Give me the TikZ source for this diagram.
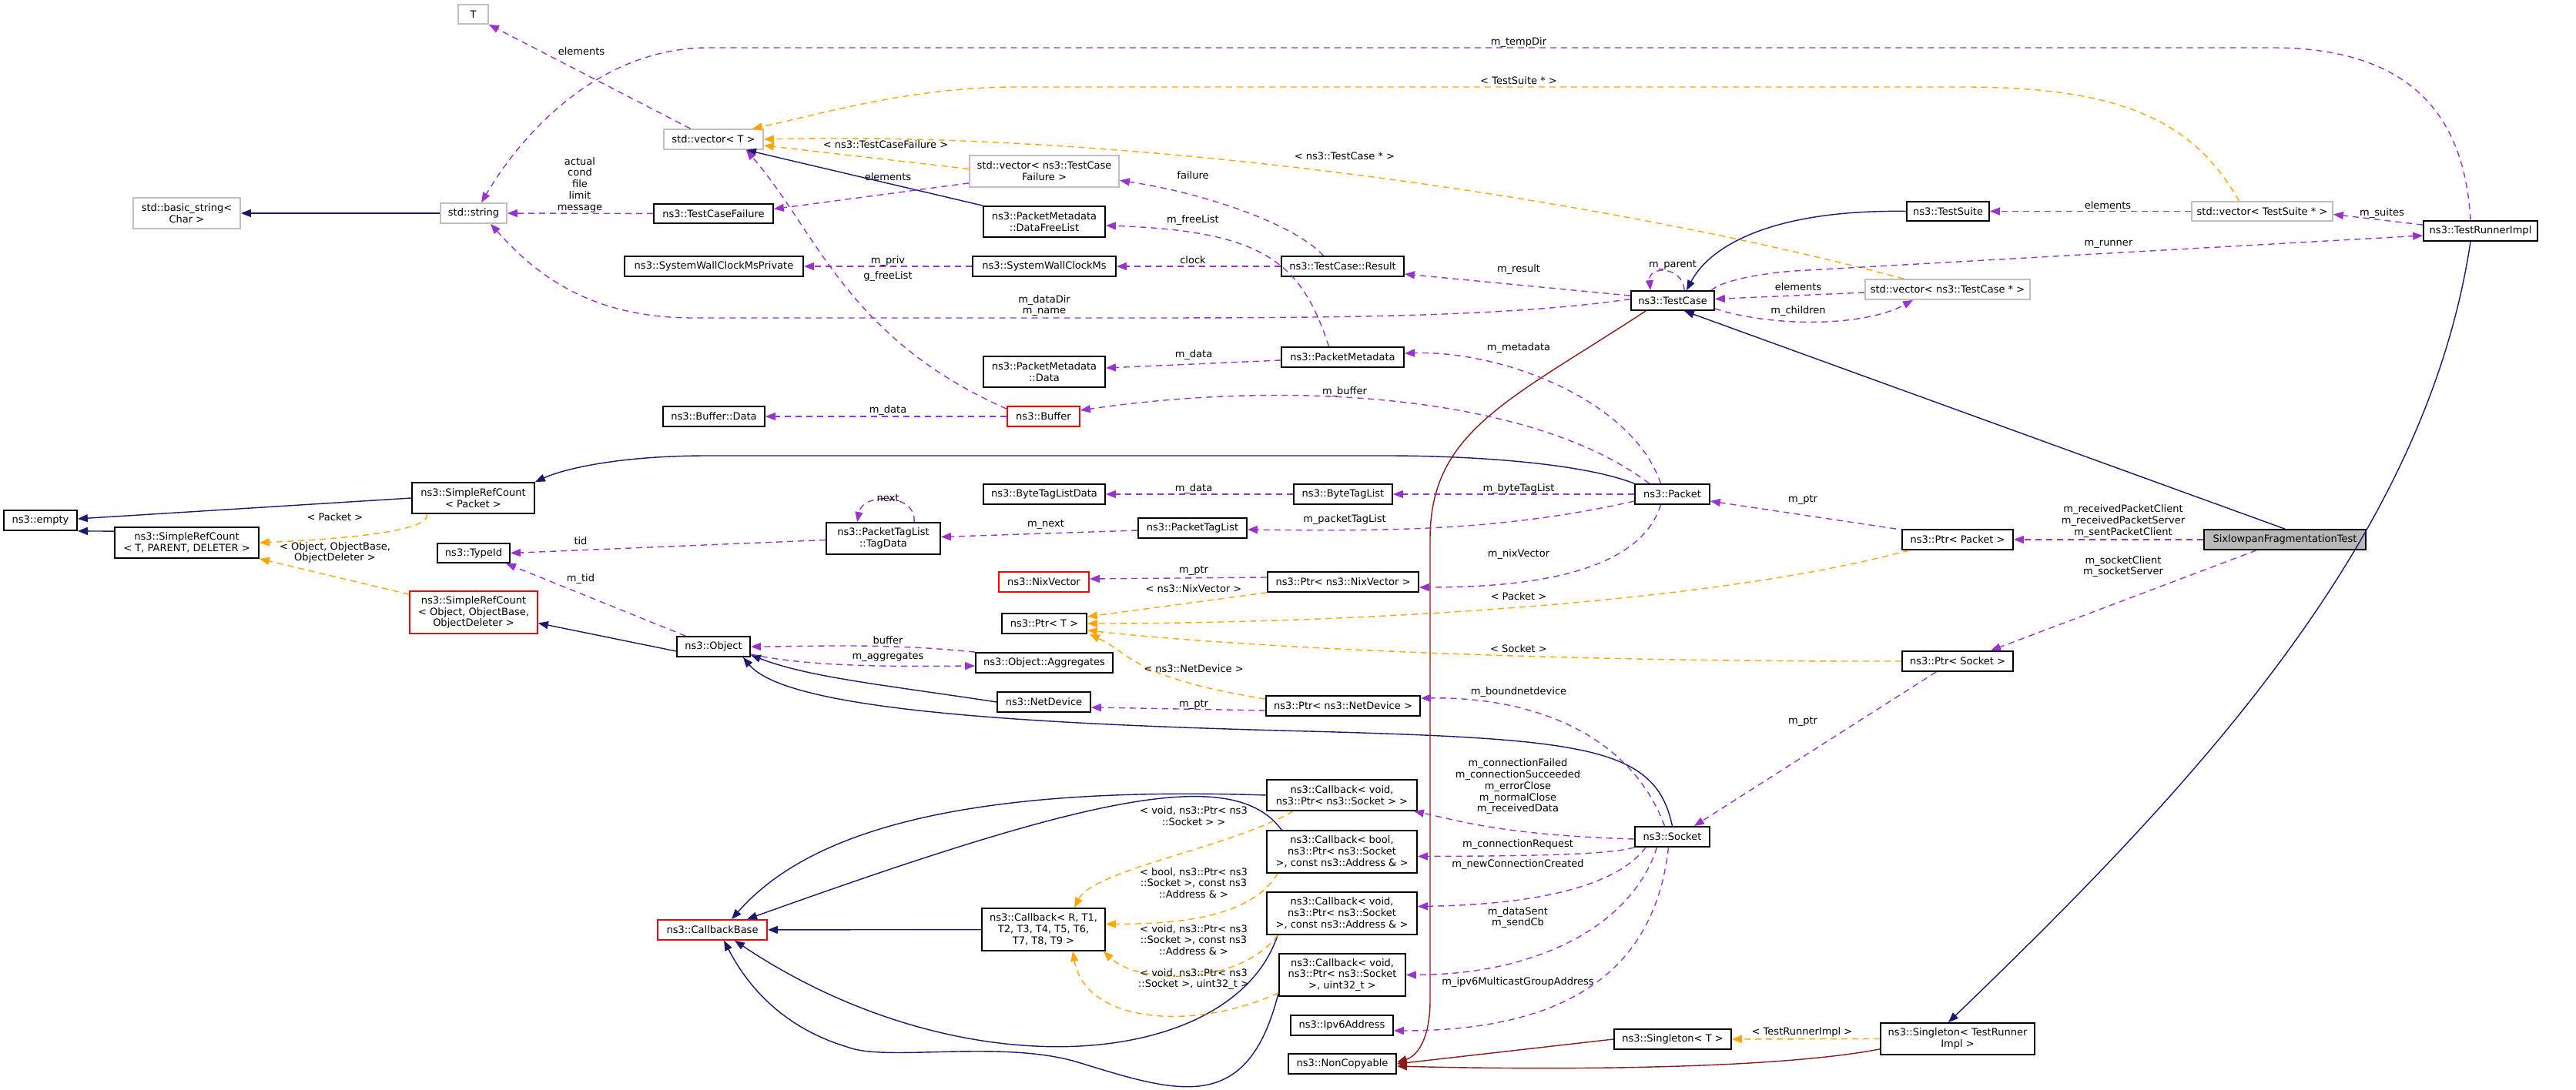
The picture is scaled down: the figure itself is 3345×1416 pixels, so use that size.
\documentclass[tikz,border=0pt]{standalone}
\usepackage{fontspec}
\setmainfont{DejaVu Sans}
\usetikzlibrary{arrows.meta}
\definecolor{pur}{HTML}{9A32CD}
\definecolor{nav}{HTML}{191970}
\definecolor{org}{HTML}{FFA500}
\definecolor{drd}{HTML}{8B1A1A}
\definecolor{gbd}{HTML}{BFBFBF}
\newcommand\B[7]{\node[#1,minimum width={(#4-#3)*0.01cm},minimum height={(#6-#5)*0.01cm}] (#2) at ({(#3+#4)/2},{(#5+#6)/2}) {#7};}
\newcommand\Lb[3]{\node[lab] at (#1,#2) {#3};}
\newcommand\Sh[3]{([shift={(#1,#2)}]#3)}
\begin{document}
\begin{tikzpicture}[x=0.01cm,y=-0.01cm,
  font=\fontsize{3.7}{4.2}\selectfont,
  bx/.style={draw=black,line width=0.5pt,inner sep=0pt,align=center,fill=white},
  gb/.style={bx,draw=gbd},
  rb/.style={bx,draw=red},
  lab/.style={align=center,inner sep=0pt},
  tip/.style={-{Triangle[length=0.13cm,width=0.1cm]}},
  inh/.style={tip,draw=nav,line width=0.4pt},
  ncp/.style={tip,draw=drd,line width=0.4pt},
  tpl/.style={tip,draw=org,line width=0.4pt,dash pattern=on 0.08cm off 0.06cm},
  use/.style={tip,draw=pur,line width=0.4pt,dash pattern=on 0.08cm off 0.06cm}]
\useasboundingbox (0,0) rectangle (3345,1416);
\B{gb}{T}{595}{634}{6}{31}{T}
\B{gb}{vecT}{862}{991}{168}{194}{std::vector< T >}
\B{gb}{str}{572}{658}{264}{290}{std::string}
\B{gb}{bstr}{173}{312}{257}{297}{std::basic\_string<\\ Char >}
\B{bx}{tcf}{849}{1004}{265}{290}{ns3::TestCaseFailure}
\B{bx}{swcp}{811}{1043}{333}{359}{ns3::SystemWallClockMsPrivate}
\B{gb}{vtcf}{1259}{1453}{202}{243}{std::vector< ns3::TestCase\\Failure >}
\B{bx}{dfl}{1277}{1435}{268}{308}{ns3::PacketMetadata\\::DataFreeList}
\B{bx}{swc}{1263}{1449}{333}{359}{ns3::SystemWallClockMs}
\B{bx}{res}{1664}{1823}{333}{359}{ns3::TestCase::Result}
\B{bx}{tc}{2118}{2226}{378}{403}{ns3::TestCase}
\B{bx}{pm}{1664}{1823}{451}{477}{ns3::PacketMetadata}
\B{bx}{pmd}{1277}{1435}{463}{503}{ns3::PacketMetadata\\::Data}
\B{bx}{ts}{2476}{2583}{262}{287}{ns3::TestSuite}
\B{gb}{vts}{2846}{3029}{262}{287}{std::vector< TestSuite * >}
\B{bx}{tri}{3147}{3295}{287}{313}{ns3::TestRunnerImpl}
\B{gb}{vtc}{2422}{2636}{363}{389}{std::vector< ns3::TestCase * >}
\B{bx}{empty}{5}{100}{663}{689}{ns3::empty}
\B{bx}{srcp}{535}{694}{627}{667}{ns3::SimpleRefCount\\< Packet >}
\B{bx}{srct}{149}{336}{685}{725}{ns3::SimpleRefCount\\< T, PARENT, DELETER >}
\B{bx}{tid}{568}{662}{706}{731}{ns3::TypeId}
\B{rb}{srco}{532}{698}{768}{823}{ns3::SimpleRefCount\\< Object, ObjectBase,\\ObjectDeleter >}
\B{bx}{obj}{879}{974}{827}{853}{ns3::Object}
\B{bx}{bd}{861}{993}{528}{554}{ns3::Buffer::Data}
\B{rb}{buf}{1308}{1402}{528}{554}{ns3::Buffer}
\B{bx}{btld}{1277}{1435}{629}{655}{ns3::ByteTagListData}
\B{bx}{btl}{1680}{1808}{629}{655}{ns3::ByteTagList}
\B{bx}{pkt}{2123}{2220}{629}{655}{ns3::Packet}
\B{bx}{tagd}{1073}{1221}{679}{720}{ns3::PacketTagList\\::TagData}
\B{bx}{ptl}{1478}{1619}{673}{699}{ns3::PacketTagList}
\B{rb}{nix}{1297}{1414}{743}{769}{ns3::NixVector}
\B{bx}{pnix}{1646}{1842}{743}{769}{ns3::Ptr< ns3::NixVector >}
\B{bx}{ptrT}{1301}{1411}{797}{823}{ns3::Ptr< T >}
\B{bx}{agg}{1267}{1445}{848}{874}{ns3::Object::Aggregates}
\B{bx}{nd}{1295}{1416}{899}{925}{ns3::NetDevice}
\B{bx}{pnd}{1644}{1844}{904}{930}{ns3::Ptr< ns3::NetDevice >}
\B{bx}{cb1}{1645}{1840}{1013}{1053}{ns3::Callback< void,\\ ns3::Ptr< ns3::Socket > >}
\B{bx}{cb2}{1645}{1840}{1079}{1134}{ns3::Callback< bool,\\ ns3::Ptr< ns3::Socket\\ >, const ns3::Address \& >}
\B{bx}{cb3}{1645}{1840}{1159}{1214}{ns3::Callback< void,\\ ns3::Ptr< ns3::Socket\\ >, const ns3::Address \& >}
\B{bx}{cb4}{1661}{1825}{1239}{1294}{ns3::Callback< void,\\ ns3::Ptr< ns3::Socket\\ >, uint32\_t >}
\B{bx}{ipv6}{1676}{1809}{1319}{1345}{ns3::Ipv6Address}
\B{bx}{nc}{1673}{1813}{1369}{1395}{ns3::NonCopyable}
\B{rb}{cbb}{854}{996}{1195}{1221}{ns3::CallbackBase}
\B{bx}{cbt}{1275}{1435}{1180}{1235}{ns3::Callback< R, T1,\\ T2, T3, T4, T5, T6,\\ T7, T8, T9 >}
\B{bx}{sock}{2123}{2220}{1074}{1100}{ns3::Socket}
\B{bx}{sgT}{2096}{2248}{1337}{1363}{ns3::Singleton< T >}
\B{bx}{sgR}{2442}{2642}{1329}{1370}{ns3::Singleton< TestRunner\\Impl >}
\B{bx}{pp}{2470}{2614}{688}{714}{ns3::Ptr< Packet >}
\B{bx,fill=gray!55}{six}{2862}{3072}{688}{714}{SixlowpanFragmentationTest}
\B{bx}{ps}{2470}{2614}{846}{872}{ns3::Ptr< Socket >}
% inheritance
\draw[inh] (dfl.north west) -- \Sh{-23}{0}{vecT.south east};
\draw[inh] (str) -- (bstr);
\draw[inh] (ts.west) .. controls (2300,272) and (2220,320) .. \Sh{18}{0}{tc.north};
\draw[inh] (six.north) -- \Sh{-40}{0}{tc.south east};
\draw[inh] \Sh{-13}{0}{tri.south} .. controls (3150,700) and (2850,1020) .. \Sh{-12}{0}{sgR.north};
\draw[inh] (pkt.north west) .. controls (2050,600) and (1900,592) .. (1800,592) -- (920,592) .. controls (800,592) and (730,610) .. (srcp.north east);
\draw[inh] (srcp.west) -- \Sh{0}{-2}{empty.east};
\draw[inh] \Sh{0}{6}{srct.north west} -- (empty.south east);
\draw[inh] \Sh{0}{6}{obj.west} -- \Sh{0}{14}{srco.east};
\draw[inh] (nd.west) .. controls (1150,890) and (1050,880) .. \Sh{0}{-3}{obj.south east};
\draw[inh] (sock.north) .. controls (2150,970) and (2060,960) .. (1700,950) .. controls (1300,940) and (1020,920) .. \Sh{-10}{0}{obj.south east};
\draw[inh] (cbt) -- (cbb);
\draw[inh] (cb1.west) .. controls (1250,1020) and (1050,1080) .. \Sh{25}{0}{cbb.north};
\draw[inh] \Sh{20}{0}{cb2.north west} .. controls (1600,990) and (1400,1040) .. \Sh{45}{0}{cbb.north};
\draw[inh] \Sh{15}{0}{cb3.south west} .. controls (1600,1390) and (1250,1420) .. \Sh{29}{0}{cbb.south};
\draw[inh] \Sh{0}{-5}{cb4.south west} .. controls (1620,1450) and (1530,1420) .. (1400,1380) .. controls (1300,1350) and (1150,1380) .. (1100,1360) .. controls (1000,1330) and (960,1260) .. \Sh{15}{0}{cbb.south};
% noncopyable
\draw[ncp] \Sh{20}{0}{tc.south west} .. controls (1960,520) and (1857,560) .. (1857,700) -- (1857,1300) .. controls (1857,1350) and (1840,1372) .. \Sh{0}{-2}{nc.east};
\draw[ncp] (sgT.west) -- (nc.east);
\draw[ncp] \Sh{0}{-8}{sgR.south west} .. controls (2300,1390) and (2000,1390) .. \Sh{0}{3}{nc.east};
% templates
\draw[tpl] (sgR.west) -- (sgT.east); \Lb{2340}{1341}{< TestRunnerImpl >}
\draw[tpl] \Sh{-30}{0}{vts.north} .. controls (2850,160) and (2760,113) .. (2550,113) -- (1320,113) .. controls (1180,113) and (1060,150) .. \Sh{-15}{0}{vecT.north east}; \Lb{1972}{105}{< TestSuite * >}
\draw[tpl] \Sh{-57}{0}{vtc.north} .. controls (2050,250) and (1450,170) .. (vecT.east); \Lb{1746}{203}{< ns3::TestCase * >}
\draw[tpl] \Sh{0}{-3}{vtcf.west} -- \Sh{0}{8}{vecT.east}; \Lb{1150}{188}{< ns3::TestCaseFailure >}
\draw[tpl] \Sh{20}{0}{srcp.south west} .. controls (560,690) and (450,700) .. (srct.east); \Lb{435}{672}{< Packet >}
\draw[tpl] \Sh{0}{5}{srco.north west} -- (srct.south east); \Lb{435}{718}{< Object, ObjectBase,\\ObjectDeleter >}
\draw[tpl] (pnix.south west) -- \Sh{0}{5}{ptrT.north east}; \Lb{1550}{765}{< ns3::NixVector >}
\draw[tpl] \Sh{10}{0}{pp.south west} .. controls (2200,790) and (1700,810) .. (ptrT.east); \Lb{1972}{775}{< Packet >}
\draw[tpl] (ps.west) .. controls (2000,860) and (1600,840) .. \Sh{0}{-5}{ptrT.south east}; \Lb{1972}{843}{< Socket >}
\draw[tpl] \Sh{0}{5}{pnd.north west} .. controls (1470,880) and (1470,850) .. \Sh{3}{0}{ptrT.south east}; \Lb{1550}{869}{< ns3::NetDevice >}
\draw[tpl] \Sh{35}{0}{cb1.south west} .. controls (1600,1100) and (1420,1130) .. \Sh{40}{0}{cbt.north}; \Lb{1550}{1060}{< void, ns3::Ptr< ns3\\::Socket > >}
\draw[tpl] \Sh{15}{0}{cb2.south west} .. controls (1620,1200) and (1500,1200) .. \Sh{0}{-7}{cbt.east}; \Lb{1550}{1147}{< bool, ns3::Ptr< ns3\\::Socket >, const ns3\\::Address \& >}
\draw[tpl] \Sh{15}{0}{cb3.south west} .. controls (1610,1280) and (1480,1280) .. \Sh{-3}{0}{cbt.south east}; \Lb{1550}{1221}{< void, ns3::Ptr< ns3\\::Socket >, const ns3\\::Address \& >}
\draw[tpl] \Sh{0}{-5}{cb4.south west} .. controls (1550,1340) and (1410,1330) .. \Sh{38}{0}{cbt.south}; \Lb{1550}{1272}{< void, ns3::Ptr< ns3\\::Socket >, uint32\_t >}
% usage
\draw[use] \Sh{-30}{0}{vecT.north} -- (T.south east); \Lb{755}{67}{elements}
\draw[use] \Sh{-13}{0}{tri.north} .. controls (3200,140) and (3120,62) .. (2950,62) -- (920,62) .. controls (780,62) and (680,170) .. \Sh{10}{0}{str.north}; \Lb{1972}{55}{m\_tempDir}
\draw[use] (tcf) -- (str); \Lb{753}{240}{actual\\cond\\file\\limit\\message}
\draw[use] \Sh{0}{-2}{tc.west} .. controls (1950,413) and (1700,413) .. (1450,413) -- (900,413) .. controls (760,413) and (690,350) .. \Sh{22}{0}{str.south}; \Lb{1356}{397}{m\_dataDir\\m\_name}
\draw[use] \Sh{0}{-6}{vtcf.south west} -- \Sh{0}{-6}{tcf.east}; \Lb{1153}{230}{elements}
\draw[use] \Sh{-25}{0}{res.north} .. controls (1680,290) and (1560,250) .. \Sh{0}{12}{vtcf.east}; \Lb{1549}{228}{failure}
\draw[use] \Sh{-18}{0}{pm.north} .. controls (1690,340) and (1640,300) .. \Sh{0}{5}{dfl.east}; \Lb{1549}{286}{m\_freeList}
\draw[use] (swc) -- (swcp); \Lb{1153}{339}{m\_priv}
\draw[use] (res) -- (swc); \Lb{1549}{338}{clock}
\draw[use] \Sh{0}{4}{buf.north west} .. controls (1100,440) and (1060,300) .. \Sh{-23}{0}{vecT.south east}; \Lb{1153}{359}{g\_freeList}
\draw[use] \Sh{0}{7}{tc.north west} -- \Sh{0}{10}{res.east}; \Lb{1972}{350}{m\_result}
\draw[use] \Sh{70}{0}{tc.north west} .. controls (2185,345) and (2140,345) .. \Sh{26}{0}{tc.north west}; \Lb{2172}{344}{m\_parent}
\draw[use] (vts) -- (ts); \Lb{2737}{267}{elements}
\draw[use] \Sh{0}{6}{tri.north west} -- \Sh{0}{4}{vts.east}; \Lb{3093}{277}{m\_suites}
\draw[use] \Sh{-5}{0}{tc.north east} .. controls (2240,362) and (2300,354) .. (2330,352) -- \Sh{0}{6}{tri.west}; \Lb{2738}{317}{m\_runner}
\draw[use] \Sh{0}{4}{vtc.west} -- \Sh{0}{-2}{tc.east}; \Lb{2335}{373}{elements}
\draw[use] \Sh{0}{-3}{tc.south east} .. controls (2300,425) and (2420,425) .. \Sh{-45}{0}{vtc.south}; \Lb{2335}{404}{m\_children}
\draw[use] \Sh{0}{4}{pm.west} -- \Sh{0}{-5}{pmd.east}; \Lb{1550}{461}{m\_data}
\draw[use] \Sh{-15}{0}{pkt.north} .. controls (2120,520) and (1950,455) .. \Sh{0}{-5}{pm.east}; \Lb{1972}{452}{m\_metadata}
\draw[use] (buf) -- (bd); \Lb{1153}{533}{m\_data}
\draw[use] \Sh{-30}{0}{pkt.north} .. controls (2000,520) and (1700,490) .. \Sh{0}{-8}{buf.east}; \Lb{1746}{509}{m\_buffer}
\draw[use] (btl) -- (btld); \Lb{1550}{635}{m\_data}
\draw[use] (pkt) -- (btl); \Lb{1972}{635}{m\_byteTagList}
\draw[use] \Sh{115}{0}{tagd.north west} .. controls (1190,640) and (1120,640) .. \Sh{41}{0}{tagd.north west}; \Lb{1153}{647}{next}
\draw[use] \Sh{0}{3}{ptl.west} -- \Sh{0}{-2}{tagd.east}; \Lb{1358}{681}{m\_next}
\draw[use] \Sh{0}{9}{pkt.west} .. controls (1950,690) and (1800,690) .. \Sh{0}{2}{ptl.east}; \Lb{1746}{675}{m\_packetTagList}
\draw[use] \Sh{-15}{0}{pkt.south} .. controls (2130,740) and (2000,763) .. \Sh{0}{7}{pnix.east}; \Lb{1972}{720}{m\_nixVector}
\draw[use] \Sh{0}{-6}{pnix.west} -- \Sh{0}{-4}{nix.east}; \Lb{1550}{741}{m\_ptr}
\draw[use] \Sh{-7}{0}{pp.north west} -- \Sh{0}{9}{pkt.east}; \Lb{2341}{649}{m\_ptr}
\draw[use] (six) -- (pp); \Lb{2757}{677}{m\_receivedPacketClient\\m\_receivedPacketServer\\m\_sentPacketClient}
\draw[use] \Sh{-37}{0}{six.south} -- \Sh{43}{0}{ps.north}; \Lb{2757}{736}{m\_socketClient\\m\_socketServer}
\draw[use] \Sh{45}{0}{ps.south west} -- \Sh{-21}{0}{sock.north east}; \Lb{2341}{937}{m\_ptr}
\draw[use] \Sh{12}{0}{obj.north west} -- \Sh{-6}{0}{tid.south east}; \Lb{754}{752}{m\_tid}
\draw[use] \Sh{0}{2}{tagd.west} -- (tid.east); \Lb{754}{703}{tid}
\draw[use] (agg.north west) .. controls (1150,835) and (1050,840) .. (obj.east); \Lb{1153}{832}{buffer}
\draw[use] \Sh{0}{-4}{obj.south east} .. controls (1050,866) and (1150,866) .. \Sh{0}{4}{agg.west}; \Lb{1153}{853}{m\_aggregates}
\draw[use] \Sh{0}{6}{pnd.west} -- \Sh{0}{7}{nd.east}; \Lb{1550}{915}{m\_ptr}
\draw[use] \Sh{-10}{0}{sock.north} .. controls (2120,960) and (2000,905) .. \Sh{0}{-10}{pnd.east}; \Lb{1972}{899}{m\_boundnetdevice}
\draw[use] \Sh{0}{3}{sock.west} .. controls (1950,1085) and (1890,1065) .. \Sh{-5}{0}{cb1.south east}; \Lb{1971}{1022}{m\_connectionFailed\\m\_connectionSucceeded\\m\_errorClose\\m\_normalClose\\m\_receivedData}
\draw[use] (sock.south west) .. controls (2090,1110) and (2000,1112) .. \Sh{0}{6}{cb2.east}; \Lb{1971}{1097}{m\_connectionRequest}
\draw[use] \Sh{15}{0}{sock.south west} .. controls (2100,1150) and (2000,1175) .. \Sh{0}{-9}{cb3.east}; \Lb{1971}{1123}{m\_newConnectionCreated}
\draw[use] \Sh{-20}{0}{sock.south} .. controls (2120,1200) and (2000,1266) .. (cb4.east); \Lb{1971}{1192}{m\_dataSent\\m\_sendCb}
\draw[use] \Sh{-5}{0}{sock.south} .. controls (2150,1250) and (2050,1339) .. \Sh{0}{7}{ipv6.east}; \Lb{1971}{1276}{m\_ipv6MulticastGroupAddress}
\end{tikzpicture}
\end{document}
